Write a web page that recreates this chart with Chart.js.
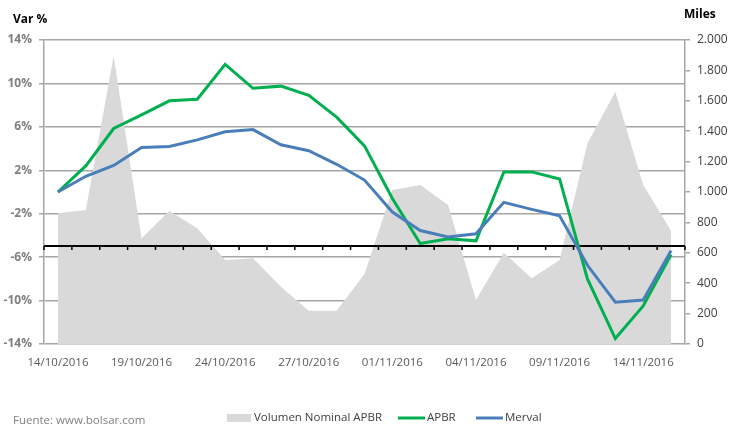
<!DOCTYPE html>
<html>
<head>
<meta charset="utf-8">
<script src="https://cdn.jsdelivr.net/npm/chart.js@4/dist/chart.umd.min.js"></script>
<style>
  html, body { margin: 0; padding: 0; background: #ffffff; }
  #wrap { position: relative; width: 733px; height: 424px; overflow: hidden; }
</style>
</head>
<body>
<div id="wrap"><canvas id="c" width="733" height="424"></canvas></div>
<script>
// ---- data ----
const dates = [
  '14/10/2016','17/10/2016','18/10/2016','19/10/2016','20/10/2016','21/10/2016',
  '24/10/2016','25/10/2016','26/10/2016','27/10/2016','28/10/2016','31/10/2016',
  '01/11/2016','02/11/2016','03/11/2016','04/11/2016','07/11/2016','08/11/2016',
  '09/11/2016','10/11/2016','11/11/2016','14/11/2016','15/11/2016'
];
const apbr = [0.0, 2.4, 5.85, 7.1, 8.4, 8.55, 11.75, 9.55, 9.75, 8.9, 6.9, 4.25,
  -0.6, -4.75, -4.3, -4.5, 1.85, 1.85, 1.2, -8.0, -13.5, -10.5, -5.75];
const merval = [0.0, 1.45, 2.45, 4.1, 4.2, 4.8, 5.55, 5.75, 4.35, 3.8, 2.55, 1.1,
  -1.85, -3.55, -4.15, -3.85, -0.95, -1.6, -2.2, -6.75, -10.15, -9.95, -5.4];
const volumen = [860, 882, 1895, 695, 875, 761, 553, 564, 377, 219, 219, 460,
  1013, 1046, 914, 289, 601, 432, 553, 1320, 1660, 1046, 746];
const leftTicksMin = -14, leftTicksMax = 14, leftStep = 4;
const rightMin = 0, rightMax = 2000, rightStep = 200;
const axisCrossValue = -5;
const labelEvery = 3;

const FONT = "'Open Sans', 'Liberation Sans', sans-serif";

const crossAxisPlugin = {
  id: 'crossAxis',
  afterDatasetDraw(chart, args) {
    if (args.index !== 0) return;
    const ctx = chart.ctx, x = chart.scales.x, y = chart.scales.y, a = chart.chartArea;
    const py = Math.round(y.getPixelForValue(axisCrossValue));
    ctx.save();
    ctx.strokeStyle = '#000000';
    ctx.lineWidth = 2;
    ctx.beginPath();
    ctx.moveTo(a.left, py); ctx.lineTo(a.right, py);
    ctx.stroke();
    const w = x.getPixelForValue(1) - x.getPixelForValue(0);
    ctx.lineWidth = 1.5;
    ctx.beginPath();
    for (let i = 0; i <= dates.length; i++) {
      const bx = x.getPixelForValue(i) - w / 2;
      ctx.moveTo(bx, py); ctx.lineTo(bx, py + 4);
    }
    ctx.stroke();
    ctx.restore();
  }
};

const textPlugin = {
  id: 'texts',
  afterDraw(chart) {
    const ctx = chart.ctx;
    ctx.save();
    ctx.textBaseline = 'middle';
    ctx.fillStyle = '#000000';
    ctx.font = "bold 12px " + FONT;
    ctx.textAlign = 'left';
    ctx.fillText('Var %', 13, 20);
    ctx.fillText('Miles', 684, 15);
    ctx.font = "11.5px " + FONT;
    ctx.fillStyle = '#808080';
    ctx.fillText('Fuente: www.bolsar.com', 13, 421);
    // legend
    const ds = chart.data.datasets;
    const ly = 418;
    ctx.font = "11.5px " + FONT;
    ctx.fillStyle = ds[0].backgroundColor;
    ctx.fillRect(227, ly - 4, 24, 8);
    ctx.fillStyle = '#404040';
    ctx.fillText(ds[0].label, 254, ly);
    ctx.lineWidth = 3;
    ctx.strokeStyle = ds[1].borderColor;
    ctx.beginPath(); ctx.moveTo(398, ly); ctx.lineTo(425, ly); ctx.stroke();
    ctx.fillText(ds[1].label, 427, ly);
    ctx.strokeStyle = ds[2].borderColor;
    ctx.beginPath(); ctx.moveTo(476, ly); ctx.lineTo(503, ly); ctx.stroke();
    ctx.fillText(ds[2].label, 505, ly);
    ctx.restore();
  }
};

new Chart(document.getElementById('c'), {
  type: 'line',
  data: {
    labels: dates,
    datasets: [
      { label: 'Volumen Nominal APBR', data: volumen, yAxisID: 'y1',
        backgroundColor: '#d9d9d9', borderWidth: 0, borderColor: 'rgba(0,0,0,0)',
        fill: 'origin', pointRadius: 0, tension: 0, order: 3 },
      { label: 'APBR', data: apbr, yAxisID: 'y', borderColor: '#00b050',
        borderWidth: 3, pointRadius: 0, fill: false, tension: 0, order: 2 },
      { label: 'Merval', data: merval, yAxisID: 'y', borderColor: '#4a7ebb',
        borderWidth: 3, pointRadius: 0, fill: false, tension: 0, order: 1 }
    ]
  },
  plugins: [crossAxisPlugin, textPlugin],
  options: {
    responsive: false,
    animation: false,
    layout: { padding: { top: 40, left: 0, right: 0, bottom: 0 } },
    plugins: { legend: { display: false }, tooltip: { enabled: false } },
    scales: {
      x: {
        type: 'category',
        offset: true,
        grid: { display: false, drawTicks: false },
        border: { display: false },
        ticks: {
          autoSkip: false, maxRotation: 0, minRotation: 0, padding: 12,
          color: '#595959', font: { family: FONT, size: 11.5 },
          callback: function (v, i) { return i % labelEvery === 0 ? dates[i] : ''; }
        },
        afterFit(s) { s.height = 80; }
      },
      y: {
        position: 'left',
        min: leftTicksMin, max: leftTicksMax,
        grid: { color: '#a6a6a6', lineWidth: 1.5, tickLength: 5, drawTicks: true },
        border: { display: true, color: '#a6a6a6', width: 1.5 },
        ticks: {
          stepSize: leftStep, padding: 7, color: '#7f7f7f',
          font: { family: FONT, size: 12, weight: 'bold' },
          callback: v => v + '%'
        },
        afterFit(s) { s.width = 44; }
      },
      y1: {
        position: 'right',
        min: rightMin, max: rightMax,
        grid: { drawOnChartArea: false, color: '#a6a6a6', lineWidth: 1.5, tickLength: 5 },
        border: { display: true, color: '#a6a6a6', width: 1.5 },
        ticks: {
          stepSize: rightStep, padding: 7, color: '#404040',
          font: { family: FONT, size: 12 },
          callback: v => v.toString().replace(/\B(?=(\d{3})+(?!\d))/g, '.')
        },
        afterFit(s) { s.width = 48; }
      }
    }
  }
});
</script>
</body>
</html>
